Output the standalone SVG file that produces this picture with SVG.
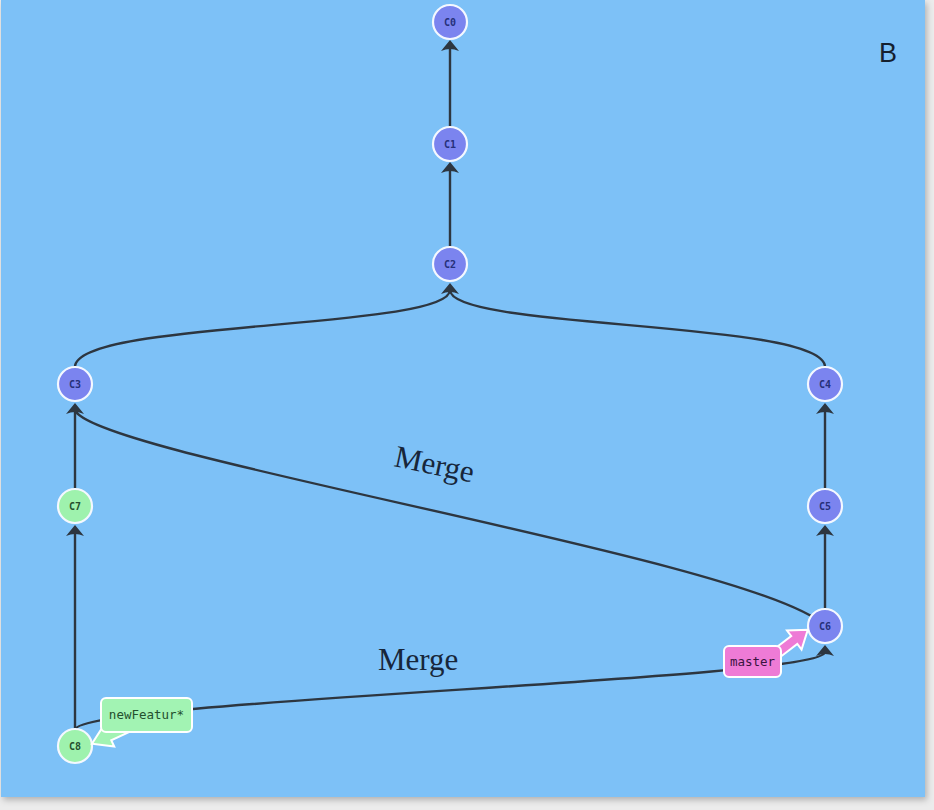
<svg xmlns="http://www.w3.org/2000/svg" width="934" height="810" viewBox="0 0 934 810">
<style>
.edge{fill:none;stroke:#2d3640;stroke-width:2.4}
.ah{fill:#2d3640}
.node circle{stroke:#f4f8ff;stroke-width:2.2}
.blue circle{fill:#7b84ef}
.green circle{fill:#9ef2ad}
.node text{font-family:"DejaVu Sans Mono","Liberation Mono",monospace;font-size:10px;font-weight:bold;fill:#26307a;text-anchor:middle}
.green text{fill:#24502e}
.tag{stroke:#ffffff;stroke-width:2}
.tagtext{font-family:"DejaVu Sans Mono","Liberation Mono",monospace;font-size:12.5px;text-anchor:middle}
.merge{font-family:"Liberation Serif","DejaVu Serif",serif;font-size:31px;fill:#17263a}
</style>
<defs>
<filter id="sh" x="-5%" y="-5%" width="110%" height="110%"><feDropShadow dx="2" dy="3" stdDeviation="3" flood-color="#000" flood-opacity="0.25"/></filter>
<path id="ah" d="M0,0 L-9,11 Q0,7 9,11 Z"/>
</defs>
<rect width="934" height="810" fill="#ececec"/>
<rect x="1" y="0" width="924" height="797" fill="#7dc1f7" filter="url(#sh)"/>
<text x="888" y="62" font-family="Liberation Sans, Arial, sans-serif" font-size="27" fill="#15202e" text-anchor="middle">B</text>
<g id="connectors">
<path class="edge" d="M450,127 L450,48"/>
<path class="edge" d="M450,248 L450,170"/>
<path class="edge" d="M75,367 C75,320 450,330 450,290"/>
<path class="edge" d="M825,367 C825,320 450,330 450,290"/>
<path class="edge" d="M75,490 L75,411"/>
<path class="edge" d="M75,730 L75,533"/>
<path class="edge" d="M825,490 L825,411"/>
<path class="edge" d="M825,610 L825,533"/>
<path class="edge" d="M75,410 C90,455 760,560 825,626"/>
<path class="edge" d="M75,730 C75,700 825,680 825,652"/>
<use href="#ah" class="ah" x="450" y="40"/>
<use href="#ah" class="ah" x="450" y="162"/>
<use href="#ah" class="ah" x="450" y="283"/>
<use href="#ah" class="ah" x="75" y="403"/>
<use href="#ah" class="ah" x="825" y="403"/>
<use href="#ah" class="ah" x="75" y="525"/>
<use href="#ah" class="ah" x="825" y="525"/>
<use href="#ah" class="ah" x="825" y="645"/>
</g>
<text class="merge" transform="translate(393,466) rotate(12)">Merge</text>
<text class="merge" x="378" y="670">Merge</text>
<g id="C0" class="node blue"><circle cx="450" cy="22" r="17"/><text x="450" y="25.5">C0</text></g>
<g id="C1" class="node blue"><circle cx="450" cy="144" r="17"/><text x="450" y="147.5">C1</text></g>
<g id="C2" class="node blue"><circle cx="450" cy="264" r="17"/><text x="450" y="267.5">C2</text></g>
<g id="C3" class="node blue"><circle cx="75" cy="384" r="17"/><text x="75" y="387.5">C3</text></g>
<g id="C4" class="node blue"><circle cx="825" cy="384" r="17"/><text x="825" y="387.5">C4</text></g>
<g id="C7" class="node green"><circle cx="75" cy="506" r="17"/><text x="75" y="509.5">C7</text></g>
<g id="C5" class="node blue"><circle cx="825" cy="506" r="17"/><text x="825" y="509.5">C5</text></g>
<g id="C6" class="node blue"><circle cx="825" cy="626" r="17"/><text x="825" y="629.5">C6</text></g>
<g id="C8" class="node green"><circle cx="75" cy="746" r="17"/><text x="75" y="749.5">C8</text></g>
<g id="master">
<polygon class="tag" fill="#ee7bd6" transform="translate(776,654) rotate(-37.4)" points="0,-5 23,-5 23,-12 40,0 23,12 23,5 0,5"/>
<rect class="tag" x="724" y="646" width="57" height="31" rx="5" fill="#ee7bd6"/>
<text class="tagtext" x="752.5" y="666" fill="#3a1440">master</text>
</g>
<g id="newFeature">
<polygon class="tag" fill="#a2f3b3" transform="translate(130,726) rotate(155)" points="0,-5 23,-5 23,-12 42,0 23,12 23,5 0,5"/>
<rect class="tag" x="101" y="698" width="91" height="34" rx="5" fill="#a2f3b3"/>
<text class="tagtext" x="146.5" y="719" fill="#24502e">newFeatur*</text>
</g>
</svg>
